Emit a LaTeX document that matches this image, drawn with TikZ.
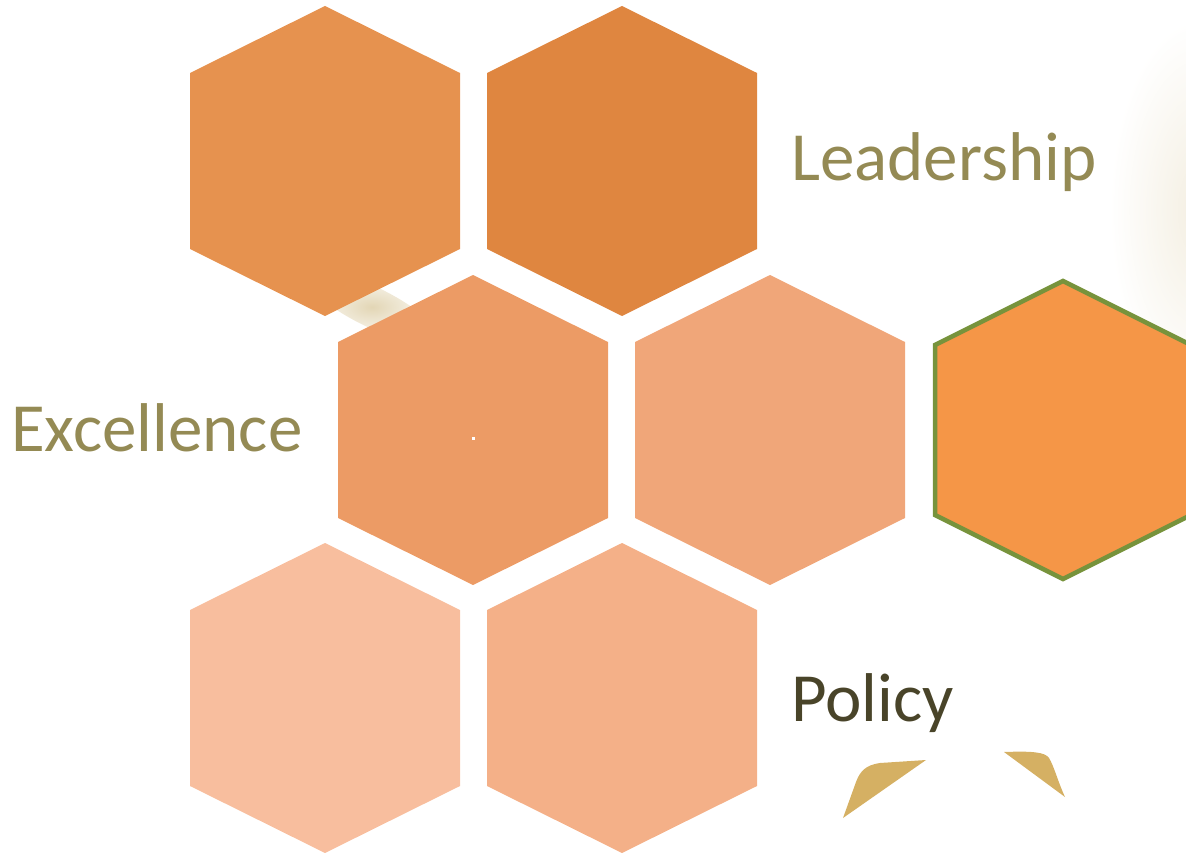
\documentclass[tikz,border=0pt]{standalone}
\usepackage{fontspec}
\setmainfont{Carlito}
\usetikzlibrary{fadings}
\definecolor{hA}{HTML}{E6924F}
\definecolor{hB}{HTML}{DF8640}
\definecolor{hC}{HTML}{EC9B65}
\definecolor{hD}{HTML}{F0A679}
\definecolor{hE}{HTML}{F59647}
\definecolor{hF}{HTML}{F8BE9E}
\definecolor{hG}{HTML}{F4B088}
\definecolor{hborder}{HTML}{77933C}
\definecolor{txtA}{HTML}{948A54}
\definecolor{txtB}{HTML}{494429}
\definecolor{gold}{HTML}{D5B063}
\definecolor{glow}{HTML}{D9C89C}
\tikzfading[name=softglow, inner color=transparent!0, outer color=transparent!100]
\tikzset{
  label text/.style={font=\fontsize{69}{80}\selectfont, anchor=base west, inner sep=0pt},
}
% hexagon: #1 name, #2 cx, #3 cy, #4 half-width, #5 half-height, #6 shoulder offset, #7 style
\newcommand{\hexcell}[7]{%
  \path[#7] (#2,#3-#5) -- (#2+#4,#3-#6) -- (#2+#4,#3+#6) -- (#2,#3+#5)
        -- (#2-#4,#3+#6) -- (#2-#4,#3-#6) -- cycle;
  \coordinate (#1) at (#2,#3);
}
\begin{document}
\begin{tikzpicture}[x=1pt,y=-1pt]
\useasboundingbox (0,0) rectangle (1186,853);
% soft glow at top right
\fill[glow, path fading=softglow, opacity=0.3] (1200,210) ellipse [x radius=90, y radius=190];
% glow in gap
\fill[glow, path fading=softglow, opacity=0.75, rotate around={-26:(372,307)}] (372,307) ellipse [x radius=72, y radius=20];
\hexcell{h1}{325}{161}{135}{155}{88}{fill=hA}
\hexcell{h2}{622}{161}{135}{155}{88}{fill=hB}
\hexcell{h3}{473}{430}{135}{155}{88}{fill=hC}
\hexcell{h4}{770}{430}{135}{155}{88}{fill=hD}
\hexcell{h5}{1063}{430}{128}{149}{85}{fill=hE, draw=hborder, line width=4.5pt, line join=miter}
\hexcell{h6}{325}{698}{135}{155}{88}{fill=hF}
\hexcell{h7}{622}{698}{135}{155}{88}{fill=hG}
\fill[white] (471.5,436.5) rectangle (474.5,439.5);
% text
\node[label text, text=txtA] (lead) at (791,181) {Leadership};
\node[label text, text=txtA] (exc) at (11,451) {Excellence};
\node[label text, text=txtB] (pol) at (791,721) {Policy};
% gold shapes
\fill[gold] (843,818) -- (926,760) -- (880,763) .. controls (866,765) and (860,771) .. (856,782) -- cycle;
\fill[gold] (1004,752) -- (1065,797) .. controls (1058,782) and (1054,766) .. (1049,758) .. controls (1045,752) and (1032,751) .. (1004,752) -- cycle;
\end{tikzpicture}
\end{document}
